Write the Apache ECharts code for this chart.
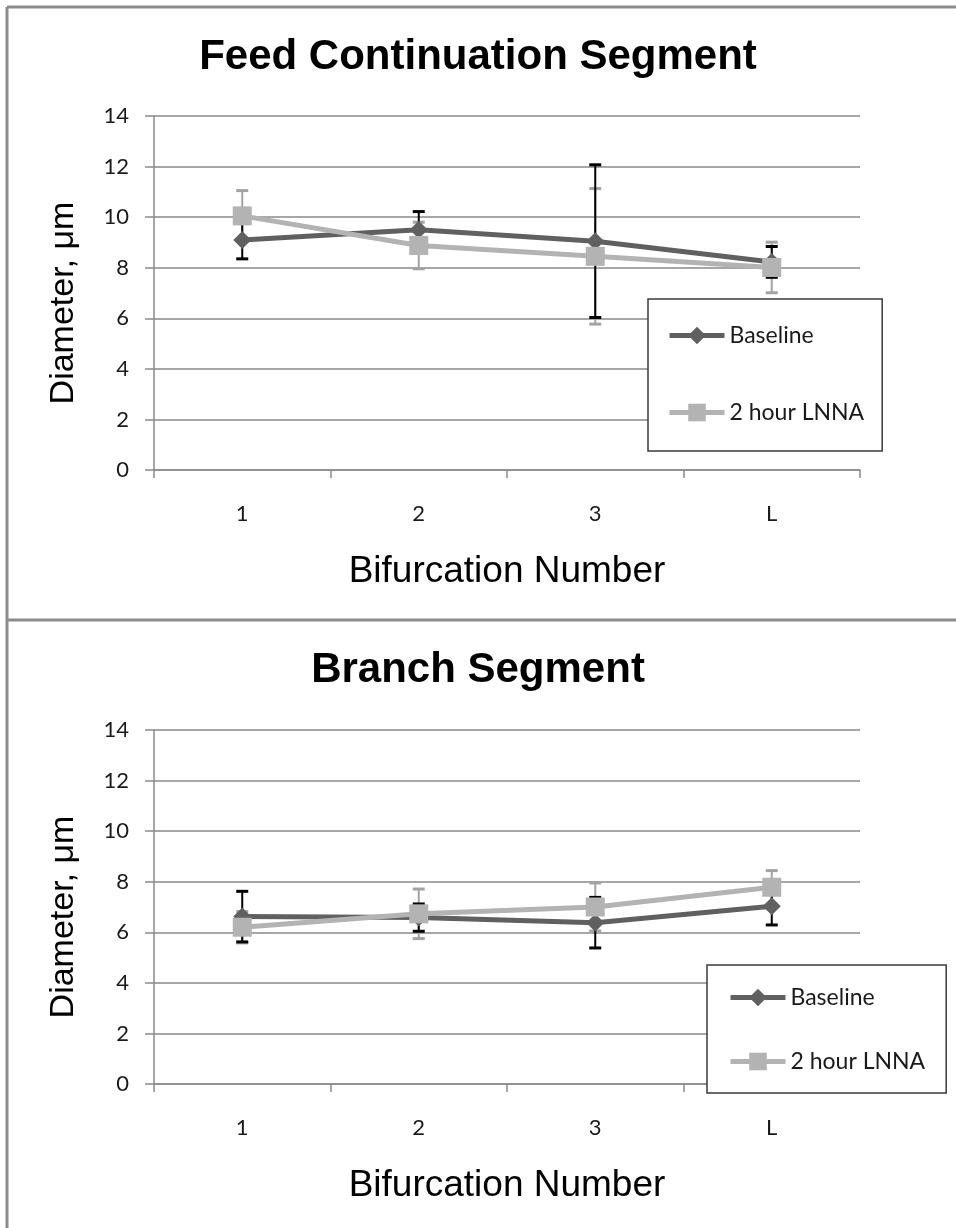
<!DOCTYPE html>
<html>
<head>
<meta charset="utf-8">
<script src="https://cdn.jsdelivr.net/npm/echarts@6/dist/echarts.min.js"></script>
<style>
html,body{margin:0;padding:0;background:#fff;}
#chart{width:956px;height:1228px;}
</style>
</head>
<body>
<div id="chart"></div>
<script>
// ---- data ----
const categories = ['1', '2', '3', 'L'];
const yTicks = [0, 2, 4, 6, 8, 10, 12, 14];

const feedBaseline = [9.1, 9.5, 9.05, 8.23];
const feedBaselineErr = [0.75, 0.72, 3.02, 0.61];
const feedLnna = [10.05, 8.88, 8.45, 8.01];
const feedLnnaErr = [1.0, 0.92, 2.68, 1.0];

const branchBaseline = [6.62, 6.58, 6.38, 7.03];
const branchBaselineErr = [1.0, 0.54, 1.0, 0.74];
const branchLnna = [6.2, 6.73, 7.0, 7.78];
const branchLnnaErr = [0.62, 0.98, 0.95, 0.66];

const titles = ['Feed Continuation Segment', 'Branch Segment'];
const seriesNames = ['Baseline', '2 hour LNNA'];
const xName = 'Bifurcation Number';
const yName = 'Diameter, \u03bcm';

// ---- styles ----
const C_BASE = '#606060';
const C_LNNA = '#b3b3b3';
const C_BASE_ERR = '#000000';
const C_LNNA_ERR = '#a3a3a3';
const AXIS_C = '#8a8a8a';
const TICK_FONT = 'Lato, "Open Sans", sans-serif';
const HEAD_FONT = '"Liberation Sans", Arial, sans-serif';

function errData(means, errs) {
  return means.map((m, i) => [i, m - errs[i], m + errs[i]]);
}

function errRender(color, width) {
  return function (params, api) {
    const lo = api.coord([api.value(0), api.value(1)]);
    const hi = api.coord([api.value(0), api.value(2)]);
    const cap = 6;
    const st = { stroke: color, lineWidth: width };
    return {
      type: 'group',
      children: [
        { type: 'line', shape: { x1: lo[0], y1: lo[1], x2: hi[0], y2: hi[1] }, style: st },
        { type: 'line', shape: { x1: hi[0] - cap, y1: hi[1], x2: hi[0] + cap, y2: hi[1] }, style: { stroke: color, lineWidth: width + 1 } },
        { type: 'line', shape: { x1: lo[0] - cap, y1: lo[1], x2: lo[0] + cap, y2: lo[1] }, style: { stroke: color, lineWidth: width + 1 } }
      ]
    };
  };
}

const grids = [
  { left: 154, top: 116, width: 706, height: 354 },
  { left: 154, top: 730, width: 706, height: 354 }
];

function xAxisFor(i) {
  return {
    type: 'category', gridIndex: i, data: categories,
    boundaryGap: true,
    axisLine: { lineStyle: { color: AXIS_C, width: 1.5 } },
    axisTick: { show: true, length: 8, lineStyle: { color: AXIS_C, width: 1.5 } },
    axisLabel: { color: '#1a1a1a', fontSize: 22, fontFamily: TICK_FONT, margin: 33 },
    name: xName, nameLocation: 'middle', nameGap: 83,
    nameTextStyle: { color: '#000', fontSize: 37, fontFamily: HEAD_FONT }
  };
}
function yAxisFor(i) {
  return {
    type: 'value', gridIndex: i, min: yTicks[0], max: yTicks[yTicks.length - 1], interval: yTicks[1] - yTicks[0],
    axisLine: { show: true, lineStyle: { color: AXIS_C, width: 1.5 } },
    axisTick: { show: true, length: 9, lineStyle: { color: AXIS_C, width: 1.5 } },
    splitLine: { show: true, lineStyle: { color: AXIS_C, width: 1.5 } },
    axisLabel: { color: '#1a1a1a', fontSize: 22, fontFamily: TICK_FONT, margin: 25 },
    name: yName, nameLocation: 'middle', nameGap: 73, nameRotate: 90,
    nameTextStyle: { color: '#000', fontSize: 34, fontFamily: HEAD_FONT, padding: [0, 20, 0, 0] }
  };
}

function seriesFor(i, base, baseErr, lnna, lnnaErr) {
  return [
    { type: 'custom', name: 'lnna-err-' + i, xAxisIndex: i, yAxisIndex: i, z: 1,
      renderItem: errRender(C_LNNA_ERR, 2), data: errData(lnna, lnnaErr), silent: true },
    { type: 'custom', name: 'base-err-' + i, xAxisIndex: i, yAxisIndex: i, z: 1,
      renderItem: errRender(C_BASE_ERR, 2), data: errData(base, baseErr), silent: true },
    { type: 'line', name: seriesNames[0], xAxisIndex: i, yAxisIndex: i, z: 3,
      data: base, symbol: 'diamond', symbolSize: 18,
      lineStyle: { color: C_BASE, width: 5 }, itemStyle: { color: C_BASE }, animation: false },
    { type: 'line', name: seriesNames[1], xAxisIndex: i, yAxisIndex: i, z: 4,
      data: lnna, symbol: 'rect', symbolSize: 19,
      lineStyle: { color: C_LNNA, width: 5 }, itemStyle: { color: C_LNNA }, animation: false }
  ];
}

function legendFor(left, top, padding, gap) {
  return {
    orient: 'vertical', left: left, top: top, data: seriesNames,
    itemWidth: 55, itemHeight: 22, itemGap: gap,
    padding: padding,
    borderColor: '#3a3a3a', borderWidth: 1.5, backgroundColor: '#fff',
    lineStyle: { width: 5 },
    textStyle: { color: '#1a1a1a', fontSize: 23, fontFamily: TICK_FONT },
    selectedMode: false, z: 10
  };
}

const chart = echarts.init(document.getElementById('chart'), null, { renderer: 'canvas' });
chart.setOption({
  animation: false,
  backgroundColor: '#fff',
  title: [
    { text: titles[0], left: 'center', top: 36, padding: 0, textStyle: { fontSize: 42, fontWeight: 'bold', fontFamily: HEAD_FONT, color: '#000' } },
    { text: titles[1], left: 'center', top: 649, padding: 0, textStyle: { fontSize: 42, fontWeight: 'bold', fontFamily: HEAD_FONT, color: '#000' } }
  ],
  grid: grids,
  xAxis: [xAxisFor(0), xAxisFor(1)],
  yAxis: [yAxisFor(0), yAxisFor(1)],
  legend: [
    legendFor(648, 299, [25, 18, 27, 19], 54),
    legendFor(707, 965, [21, 21, 20, 21], 41)
  ],
  series: [].concat(
    seriesFor(0, feedBaseline, feedBaselineErr, feedLnna, feedLnnaErr),
    seriesFor(1, branchBaseline, branchBaselineErr, branchLnna, branchLnnaErr)
  ),
  graphic: [
    { type: 'line', shape: { x1: 7, y1: 7, x2: 956, y2: 7 }, style: { stroke: '#8c8c8c', lineWidth: 3 }, silent: true },
    { type: 'line', shape: { x1: 7, y1: 7, x2: 7, y2: 1228 }, style: { stroke: '#8c8c8c', lineWidth: 3 }, silent: true },
    { type: 'line', shape: { x1: 7, y1: 620, x2: 956, y2: 620 }, style: { stroke: '#8c8c8c', lineWidth: 3 }, silent: true }
  ]
});
</script>
</body>
</html>
